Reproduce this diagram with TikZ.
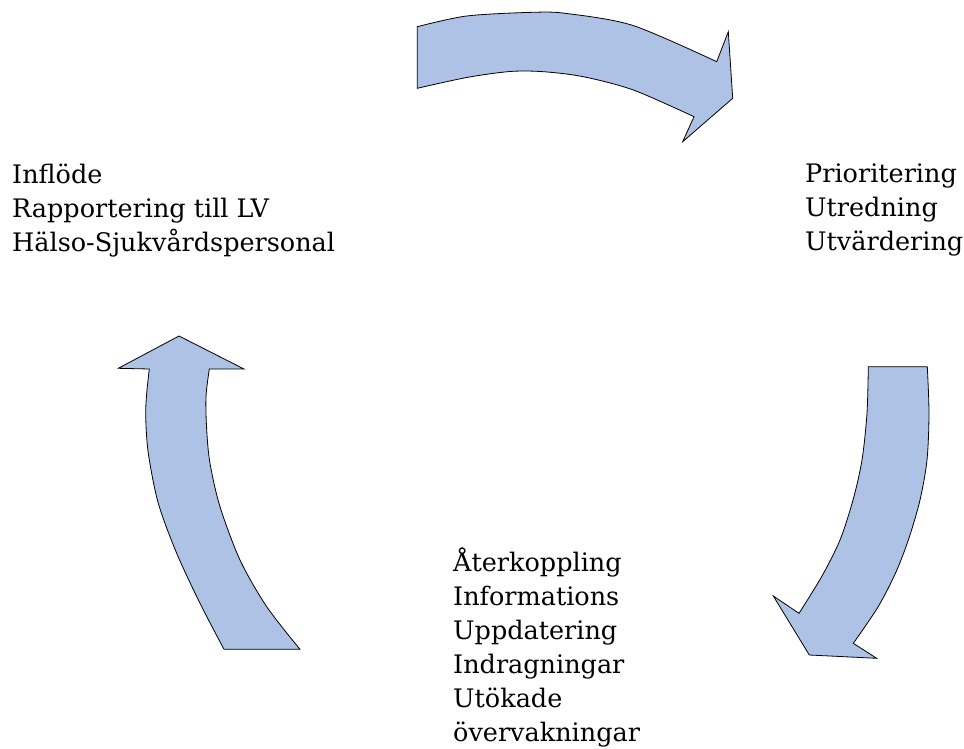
\documentclass[tikz,border=0pt]{standalone}
\usepackage{fontspec}
\setmainfont{DejaVu Serif}
\definecolor{arrowblue}{RGB}{173,194,228}
\tikzset{
  bigarrow/.style={fill=arrowblue, draw=black, line width=0.8pt, line join=miter},
  label/.style={align=left, inner sep=0pt, anchor=base west,
    font=\fontsize{25.5}{34}\selectfont}
}
\begin{document}
\begin{tikzpicture}[x=1pt, y=-1pt]
\useasboundingbox (0,0) rectangle (964,749);

% top arrow, pointing right
\filldraw[bigarrow]
  plot[smooth] coordinates {(417.3,26.7) (466.7,16) (533,12.3) (566.7,13.5) (633,25.5) (716.7,61.7)}
  -- (728.3,31.7) -- (732.7,98.3) -- (682.7,141.7) -- (694,116.7)
  -- plot[smooth] coordinates {(694,116.7) (633.3,90) (583.3,76.7) (543.3,71.7) (510,71.5) (466.7,77.5) (417.3,88.3)}
  -- cycle;

% right arrow, pointing down-left
\filldraw[bigarrow]
  (868.3,366.7) -- (927.3,366.7)
  -- plot[smooth] coordinates {(927.3,366.7) (929,413.3) (927,460) (920,500) (909,538) (896,572) (878,607) (853.3,643.3)}
  -- (876.7,658.3) -- (809.3,655) -- (773.3,596) -- (799,613.3)
  -- plot[smooth] coordinates {(799,613.3) (822,576) (840,540) (853,500) (862,460) (867,413) (868.3,366.7)}
  -- cycle;

% left arrow, pointing up
\filldraw[bigarrow]
  (224,649.3) -- (300,649.3)
  -- plot[smooth] coordinates {(300,649.3) (266.7,606.7) (240,560) (220,506.7) (210,463.3) (206.7,430) (206,396.7) (209.3,369)}
  -- (244,369) -- (179,336) -- (118.3,368.3) -- (149.3,369)
  -- plot[smooth] coordinates {(149.3,369) (146.7,393.3) (145.7,416.7) (148.3,453.3) (158.3,503.3) (176.7,553.3) (200,603.3) (224,649.3)}
  -- cycle;

% multi-line labels; the base anchor sits on the last line
\node[label] (inflow) at (12,251.7) {Inflöde\\Rapportering till LV\\Hälso-Sjukvårdspersonal};
\node[label] (assess) at (805,250.5) {Prioritering\\Utredning\\Utvärdering};
\node[label] (feedback) at (453,741.5) {Återkoppling\\Informations\\Uppdatering\\Indragningar\\Utökade\\övervakningar};
\end{tikzpicture}
\end{document}
